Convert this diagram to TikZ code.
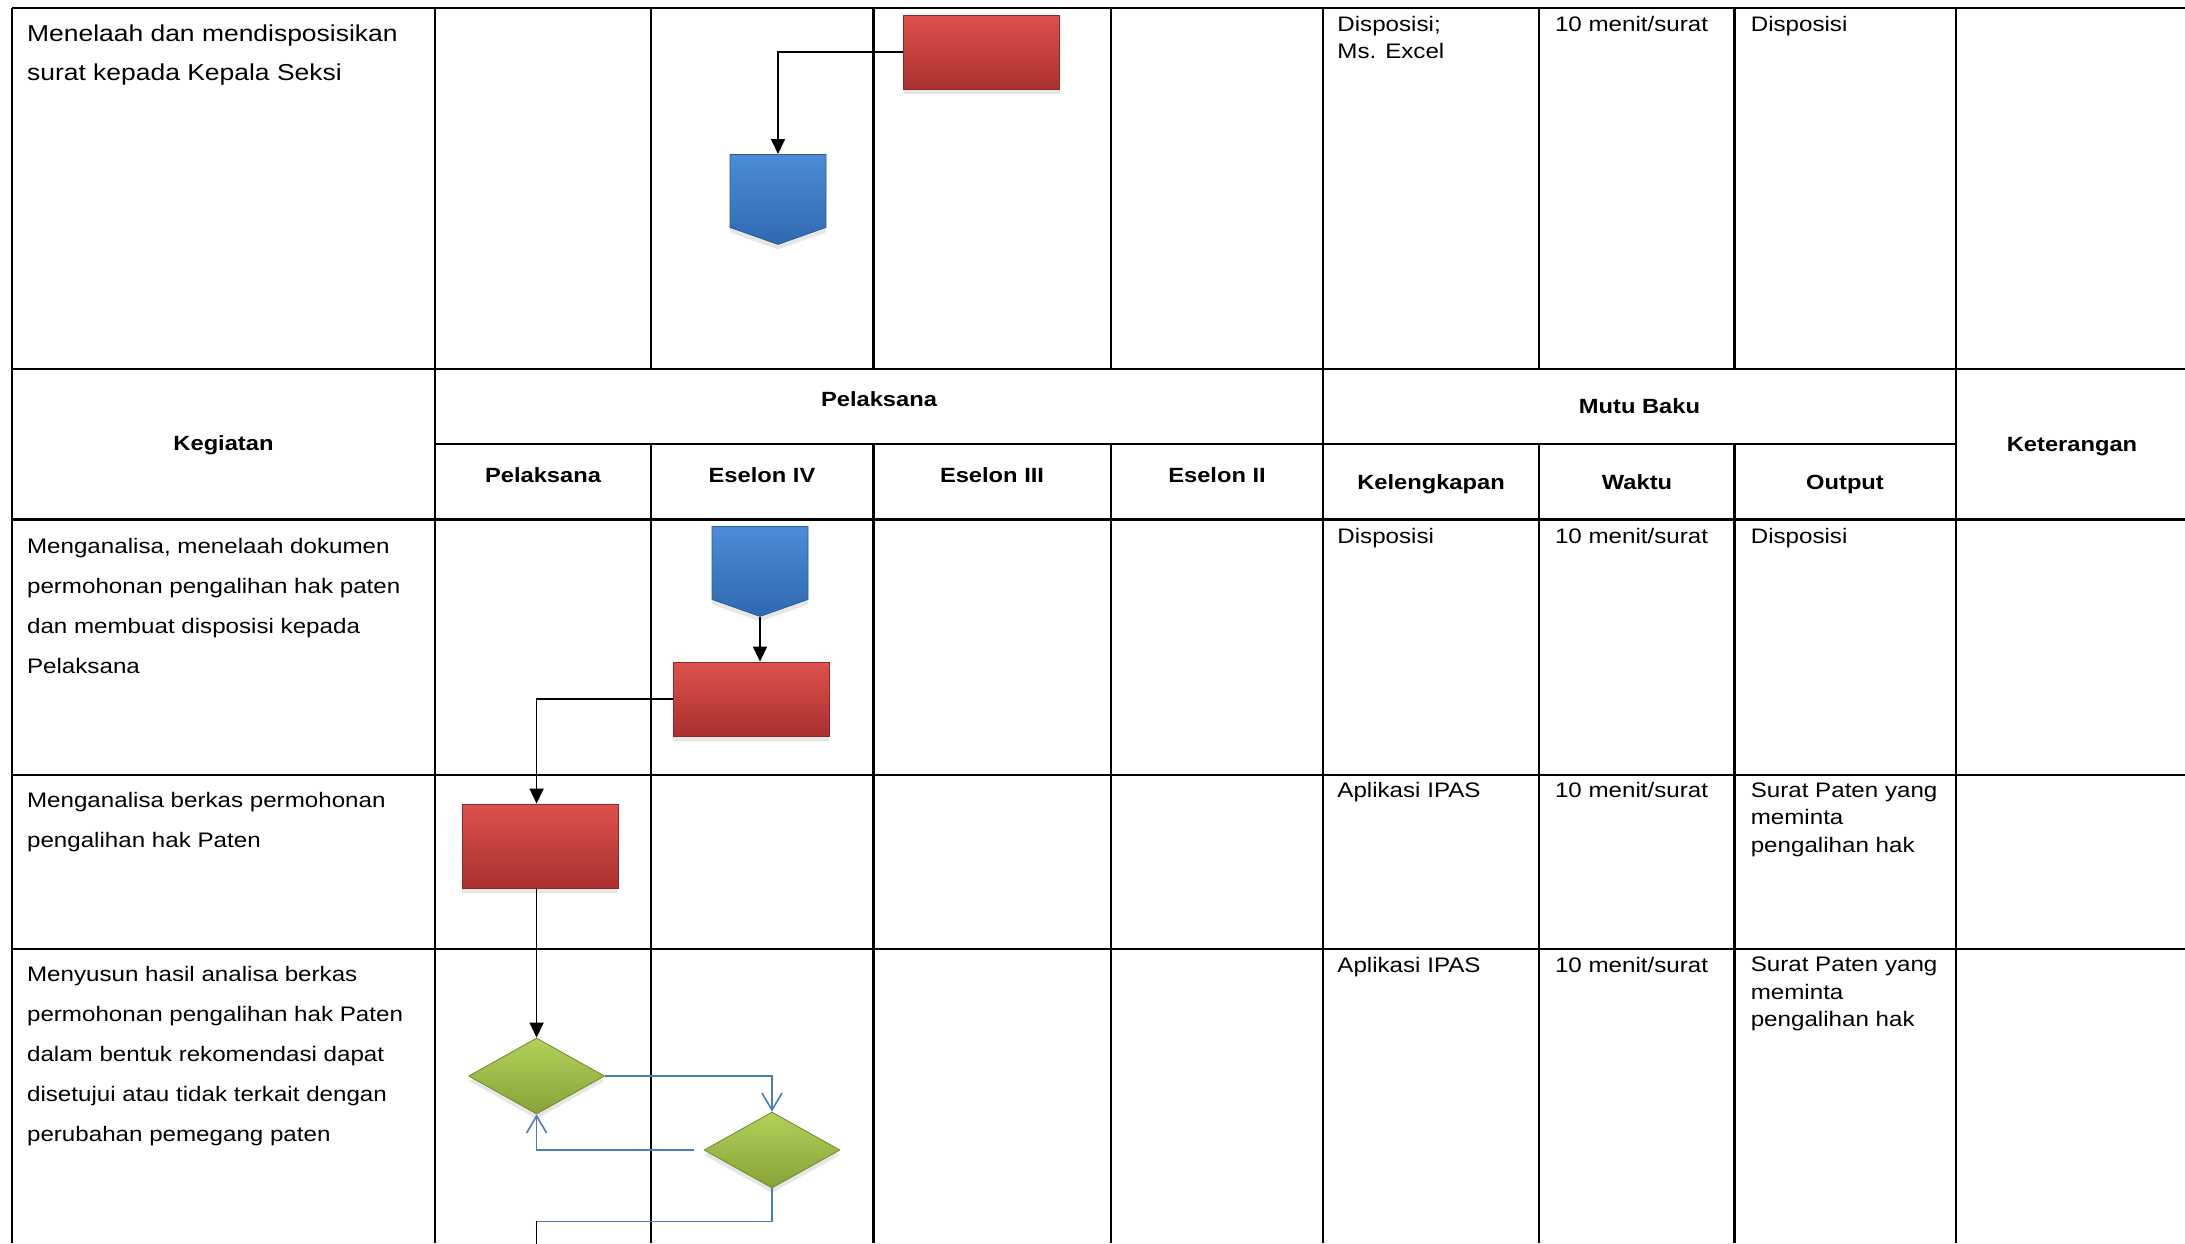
\documentclass[tikz,border=0pt]{standalone}
\usepackage{fontspec}
\setmainfont{Liberation Sans}[FakeStretch=1.15]
\usepackage{tikz}
\usetikzlibrary{positioning, shapes.geometric, shapes.symbols, arrows.meta, shadows}
\definecolor{procTop}{HTML}{DE504C}
\definecolor{procBot}{HTML}{A9312F}
\definecolor{procLine}{HTML}{8E2927}
\definecolor{offTop}{HTML}{4C8BD6}
\definecolor{offBot}{HTML}{2F69B0}
\definecolor{offLine}{HTML}{2A5C99}
\definecolor{decTop}{HTML}{B2D15A}
\definecolor{decBot}{HTML}{86A337}
\definecolor{decLine}{HTML}{6E8A2A}
\definecolor{revBlue}{HTML}{4A7EBB}
\tikzset{
    proc/.style={rectangle, draw=procLine, top color=procTop, bottom color=procBot, thin, inner sep=0pt, minimum width=78pt, minimum height=37pt, drop shadow={shadow xshift=0pt, shadow yshift=-2.5pt, opacity=0.2}},
    offpage/.style={signal, signal to=south, signal pointer angle=141, draw=offLine, top color=offTop, bottom color=offBot, thin, inner sep=0pt, minimum width=48pt, minimum height=36.5pt, anchor=north, drop shadow={shadow xshift=0pt, shadow yshift=-2.5pt, opacity=0.2}},
    decide/.style={diamond, draw=decLine, top color=decTop, bottom color=decBot, thin, inner sep=0pt, minimum width=68pt, minimum height=38pt, drop shadow={shadow xshift=0pt, shadow yshift=-2.5pt, opacity=0.2}},
    act/.style={anchor=north west, align=left, inner sep=0pt, font=\fontsize{10.5}{20}\selectfont},
    mutu/.style={anchor=north west, align=left, inner sep=0pt, font=\fontsize{10.5}{13.75}\selectfont},
    head/.style={anchor=base, inner sep=0pt, font=\bfseries\fontsize{10.3}{12}\selectfont},
    hline/.style={line width=1.3pt},
    vline/.style={line width=1.1pt},
    flow/.style={line width=0.8pt, -{Triangle[length=7.5pt,width=7pt]}},
    revisi/.style={line width=0.8pt, draw=revBlue, -{Straight Barb[length=8.5pt,width=10pt]}},
}

\begin{document}
\begin{tikzpicture}[x=0.5pt, y=-0.5pt]
    \useasboundingbox (0,0) rectangle (2185,1243);
    \foreach \x in {12,435,1323,1956}
        \draw[vline] (\x,8) -- (\x,1243);
    \foreach \x in {651,873.5,1110.6,1539,1734.5} {
        \draw[vline] (\x,8) -- (\x,369);
        \draw[vline] (\x,444) -- (\x,1243);
    }
    \foreach \y in {8,369,519.6,775,949}
        \draw[hline] (12,\y) -- (2185,\y);
    \draw[hline] (435,444) -- (1956,444);

    \node [head] (hkeg) at (223.5,450.7) {Kegiatan};
    \node [head] (hpel) at (879,406.7) {Pelaksana};
    \node [head] (hmutu) at (1639.5,413.3) {Mutu Baku};
    \node [head] (hket) at (2072,451.7) {Keterangan};
    \node [head] (hpl) at (543,482.3) {Pelaksana};
    \node [head] (he4) at (762,482.3) {Eselon IV};
    \node [head] (he3) at (992,482.3) {Eselon III};
    \node [head] (he2) at (1217,482.3) {Eselon II};
    \node [head] (hkel) at (1431,489.3) {Kelengkapan};
    \node [head] (hwkt) at (1637,489.3) {Waktu};
    \node [head] (hout) at (1845,489.3) {Output};

    \node [act, font=\fontsize{11.5}{19.5}\selectfont] (kg1) at (26.7,24.1) {Menelaah dan mendisposisikan\\surat kepada Kepala Seksi};
    \node [mutu] (kl1) at (1337,15.8) {Disposisi;\\Ms. Excel};
    \node [mutu] (wk1) at (1554.6,15.8) {10 menit/surat};
    \node [mutu] (op1) at (1750.4,15.8) {Disposisi};

    \node [act] (kg2) at (26.7,538.1) {Menganalisa, menelaah dokumen\\permohonan pengalihan hak paten\\dan membuat disposisi kepada\\Pelaksana};
    \node [mutu] (kl2) at (1337,527.5) {Disposisi};
    \node [mutu] (wk2) at (1554.6,527.5) {10 menit/surat};
    \node [mutu] (op2) at (1750.4,527.5) {Disposisi};

    \node [act] (kg3) at (26.7,791.5) {Menganalisa berkas permohonan\\pengalihan hak Paten};
    \node [mutu] (kl3) at (1337,782.3) {Aplikasi IPAS};
    \node [mutu] (wk3) at (1554.6,782.3) {10 menit/surat};
    \node [mutu] (op3) at (1750.4,782.3) {Surat Paten yang\\meminta\\pengalihan hak};

    \node [act] (kg4) at (26.7,965.5) {Menyusun hasil analisa berkas\\permohonan pengalihan hak Paten\\dalam bentuk rekomendasi dapat\\disetujui atau tidak terkait dengan\\perubahan pemegang paten};
    \node [mutu] (kl4) at (1337,956.5) {Aplikasi IPAS};
    \node [mutu] (wk4) at (1554.6,956.5) {10 menit/surat};
    \node [mutu] (op4) at (1750.4,956.5) {Surat Paten yang\\meminta\\pengalihan hak};

    \node [proc] (telaah) at (981.5,52) {};
    \node [offpage] (kasi) at (778,154) {};
    \node [offpage] (eselon) at (760,526) {};
    \node [proc] (dispo) at (751,699) {};
    \node [proc, minimum height=42pt] (analisa) at (540,846) {};
    \node [decide] (cek) at (536.6,1076) {};
    \node [decide] (rekom) at (772,1150) {};
    \path (cek.south) ++(0,107) coordinate (gabung);
    \path (gabung) ++(0,30) coordinate (lanjut);

    \draw[flow] (telaah.west) -| (kasi.north);
    \draw[flow] (eselon.south) -- (eselon.south |- dispo.north);
    \draw[flow] (dispo.west) -| (cek.north |- analisa.north);
    \draw[flow] (cek.north |- analisa.south) -- (cek.north);
    \draw[revisi] (cek.east) -| (rekom.north);
    \draw[revisi, shorten <=5pt] (rekom.west) -| (cek.south);
    \draw[revisi, -] (rekom.south) |- (gabung);
    \draw[line width=0.8pt] (gabung) -- (lanjut);
\end{tikzpicture}
\end{document}
